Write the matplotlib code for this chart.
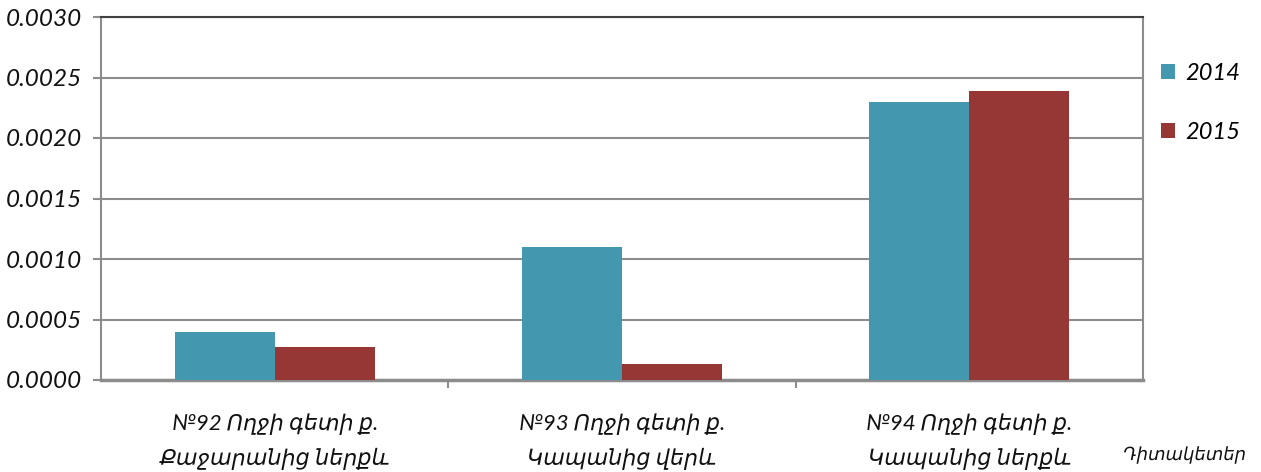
import matplotlib.pyplot as plt
import numpy as np

plt.rcParams['font.family'] = ['Lato', 'DejaVu Sans']
plt.rcParams['font.style'] = 'italic'

categories = ["№92 Ողջի գետի ք.\nՔաջարանից ներքև",
              "№93 Ողջի գետի ք.\nԿապանից վերև",
              "№94 Ողջի գետի ք.\nԿապանից ներքև"]
years = ["2014", "2015"]
vals_2014 = [0.00040, 0.00110, 0.00230]
vals_2015 = [0.00027, 0.00013, 0.00239]
yticks = [0.0, 0.0005, 0.0010, 0.0015, 0.0020, 0.0025, 0.0030]

c14 = '#4398b0'
c15 = '#963735'
grid_c = '#8c8c8c'

fig = plt.figure(figsize=(12.61, 4.72), dpi=100)
ax = fig.add_axes([101 / 1261, 1 - 380 / 472, 1042 / 1261, 363 / 472])

x = np.arange(len(categories))
w = 0.288
ax.bar(x - w / 2, vals_2014, w, color=c14, label=years[0], zorder=3)
ax.bar(x + w / 2, vals_2015, w, color=c15, label=years[1], zorder=3)

ax.set_xlim(-0.5, 2.5)
ax.set_ylim(0, 0.003)
ax.set_yticks(yticks)
ax.set_yticklabels([f"{t:.4f}" for t in yticks], fontsize=17.5, color='#111111')
ax.yaxis.grid(True, color=grid_c, linewidth=1.5, zorder=0)
ax.tick_params(axis='y', length=6, color=grid_c, width=1.5, pad=8)

ax.set_xticks([0.5, 1.5], minor=True)
ax.set_xticks(x)
ax.set_xticklabels(categories, fontsize=16, linespacing=1.75, color='#111111')
ax.tick_params(axis='x', which='major', length=0, pad=24)
ax.tick_params(axis='x', which='minor', length=6, color=grid_c, width=1.5)

for s in ['left', 'right', 'bottom']:
    ax.spines[s].set_color(grid_c)
    ax.spines[s].set_linewidth(1.5)
ax.spines['bottom'].set_linewidth(2.5)
ax.spines['top'].set_color('#404040')
ax.spines['top'].set_linewidth(1.5)

leg = fig.legend(loc='upper left', bbox_to_anchor=(1140 / 1261, 1 - 42 / 472),
                 frameon=False, fontsize=17, handlelength=0.6, handleheight=0.6,
                 handletextpad=0.4, labelspacing=1.6)

fig.text(1185 / 1261, 1 - 455 / 472, "Դիտակետեր", fontsize=13,
         ha='center', va='center', color='#111111')

fig.savefig('out.png', dpi=100)
